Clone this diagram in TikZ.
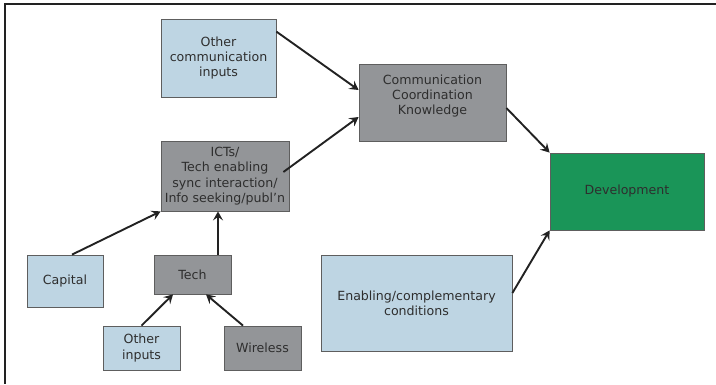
\documentclass[tikz,border=0pt]{standalone}
\usepackage{fontspec}
\setmainfont{DejaVu Sans}
\usetikzlibrary{arrows.meta, positioning, calc}
\definecolor{inpfill}{HTML}{BED5E3}
\definecolor{techfill}{HTML}{939598}
\definecolor{devfill}{HTML}{1A9558}
\definecolor{boxline}{HTML}{5E5E5E}
\definecolor{boxtext}{HTML}{2E2E2E}
\definecolor{arrline}{HTML}{222222}
\tikzset{
  inpbox/.style  = {font=\fontsize{12.6}{15.3}\selectfont, align=center,
                     draw=boxline, fill=inpfill, text=boxtext,
                     line width=0.8pt, inner sep=1pt},
  techbox/.style = {inpbox, fill=techfill},
  devbox/.style  = {inpbox, fill=devfill},
  flow/.style    = {draw=arrline, line width=1.9pt,
                     -{Stealth[length=9pt, width=10pt, inset=3.5pt]}},
  frameline/.style = {draw=arrline, line width=2.6pt},
}

\begin{document}
\begin{tikzpicture}[x=1pt, y=-1pt]
        \useasboundingbox (0,0) rectangle (716,384);
        \draw[frameline] (716,4) -- (5,4) -- (5,384);

        \node[inpbox, minimum width=115pt, minimum height=78pt] (oci) at (218.5,58)
             {Other\\communication\\inputs};
        \node[techbox, minimum width=128pt, minimum height=70pt] (ict) at (225,176)
             {ICTs/\\Tech enabling\\sync interaction/\\Info seeking/publ’n};
        \node[techbox, minimum width=147pt, minimum height=77pt] (cck) at (432.5,102.5)
             {Communication\\Coordination\\Knowledge\\~};
        \node[devbox, minimum width=154pt, minimum height=77pt] (dev) at (627,191.5)
             {Development};

        \node[inpbox, minimum width=76pt, minimum height=52pt] (cap) at (65,281) {Capital};
        \node[techbox, minimum width=77pt, minimum height=39pt] (tech) at (192.5,274.5) {Tech};
        \node[inpbox, minimum width=77pt, minimum height=44pt] (oin) at (141.5,348)
             {Other\\inputs};
        \node[techbox, minimum width=77pt, minimum height=44pt] (wir) at (262.5,348) {Wireless};
        \node[inpbox, minimum width=191pt, minimum height=96pt] (enab) at (416.5,303)
             {Enabling/complementary\\conditions};

        \draw[flow] ([yshift=-13pt]oci.north east) -- ([yshift=12.5pt]cck.west);
        \draw[flow] ([xshift=-6pt,yshift=4pt]ict.east) -- ([yshift=-14.5pt]cck.west);
        \draw[flow] ([yshift=-5.5pt]cck.east) -- (dev.north west);
        \draw[flow] ([yshift=10pt]enab.east) -- (dev.south west);
        \draw[flow] ([xshift=7pt]cap.north) -- (ict.south west);
        \draw[flow] ([xshift=25.5pt]tech.north) -- ([xshift=-7pt]ict.south);
        \draw[flow] (oin.north) -- ([xshift=-19.5pt]tech.south);
        \draw[flow] ([xshift=-19.5pt]wir.north) -- ([xshift=13.5pt]tech.south);
\end{tikzpicture}
\end{document}
